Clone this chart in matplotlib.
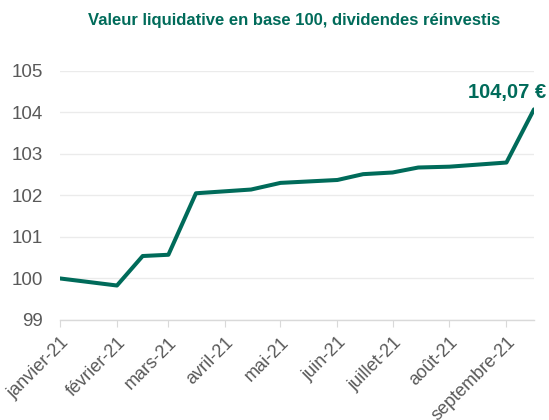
import numpy as np
import pandas as pd
import matplotlib
matplotlib.use("Agg")
import matplotlib.pyplot as plt
import matplotlib.dates as mdates

# valeurs
dates = ["2021-01-01", "2021-02-01", "2021-02-15", "2021-03-01", "2021-03-16",
         "2021-04-15", "2021-05-01", "2021-06-01", "2021-06-15", "2021-07-01",
         "2021-07-15", "2021-08-01", "2021-09-01", "2021-09-16"]
values = [100.00, 99.83, 100.54, 100.57, 102.05,
          102.14, 102.30, 102.37, 102.51, 102.55,
          102.67, 102.69, 102.79, 104.07]
month_labels = ["janvier-21", "février-21", "mars-21", "avril-21", "mai-21",
                "juin-21", "juillet-21", "août-21", "septembre-21"]
y_ticks = [99, 100, 101, 102, 103, 104, 105]

title = "Valeur liquidative en base 100, dividendes réinvestis"
last_label = "104,07 €"

green = "#006B5A"
grey_txt = "#595959"
grid_col = "#EBEBEB"
axis_col = "#D9D9D9"

plt.rcParams['font.family'] = ['Liberation Sans', 'DejaVu Sans']

x = pd.to_datetime(dates)
month_starts = pd.date_range("2021-01-01", "2021-09-01", freq="MS")

fig = plt.figure(figsize=(5.49, 4.2), dpi=100)
ax = fig.add_axes([60 / 549, 1 - 320 / 420, (534 - 60) / 549, (320 - 70.7) / 420])

ax.plot(x, values, color=green, lw=2.9, solid_capstyle="round", zorder=3)

ax.set_xlim(x[0], x[-1])
ax.set_ylim(99, 105)
ax.set_yticks(y_ticks)
ax.set_yticklabels([str(v) for v in y_ticks])
ax.set_xticks(month_starts)
ax.set_xticklabels(month_labels, rotation=45, ha="right", rotation_mode="anchor")

ax.grid(axis="y", color=grid_col, lw=1.0)
ax.set_axisbelow(True)
for s in ["left", "right", "top"]:
    ax.spines[s].set_visible(False)
ax.spines["bottom"].set_color(axis_col)
ax.spines["bottom"].set_linewidth(1.0)

ax.tick_params(axis="y", length=0, pad=12, labelsize=13.5, labelcolor=grey_txt)
ax.tick_params(axis="x", length=5, color=axis_col, labelsize=13, labelcolor=grey_txt, pad=5)

ax.annotate(last_label, xy=(x[-1], values[-1]), xytext=(9, 12),
            textcoords="offset points", ha="right", va="center",
            fontsize=14.5, fontweight="bold", color=green)

fig.text(294 / 549, 1 - 20 / 420, title, ha="center", va="center",
         fontsize=12, fontweight="bold", color=green)

fig.savefig("out.png", dpi=100)
